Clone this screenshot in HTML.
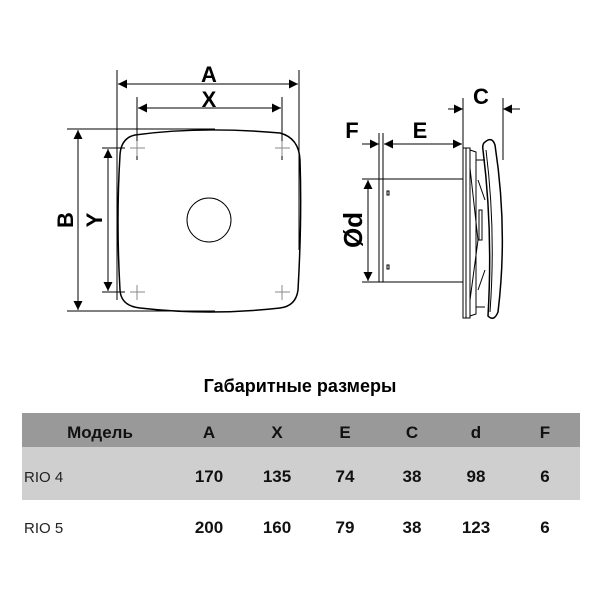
<!DOCTYPE html>
<html><head><meta charset="utf-8"><style>
body{margin:0;background:#fff;width:600px;height:600px;overflow:hidden;font-family:"Liberation Sans",sans-serif}
</style></head><body>
<svg width="600" height="600" viewBox="0 0 600 600" xmlns="http://www.w3.org/2000/svg" style="position:absolute;left:0;top:0">
<defs>
<marker id="ar" viewBox="0 0 10 10" refX="10" refY="5" markerWidth="14" markerHeight="9" orient="auto-start-reverse" markerUnits="userSpaceOnUse"><path d="M0,0L10,5L0,10z" fill="#000"/></marker>
</defs>
<g stroke="#000" stroke-width="1" fill="none">
<line x1="117" y1="70" x2="117" y2="300"/>
<line x1="299" y1="70" x2="299" y2="250"/>
<line x1="137" y1="97" x2="137" y2="160"/>
<line x1="282" y1="97" x2="282" y2="160"/>
<line x1="118" y1="84" x2="298" y2="84" marker-start="url(#ar)" marker-end="url(#ar)"/>
<line x1="138" y1="108" x2="281" y2="108" marker-start="url(#ar)" marker-end="url(#ar)"/>
<line x1="67" y1="129" x2="215" y2="129"/>
<line x1="67" y1="311" x2="215" y2="311"/>
<line x1="78" y1="130" x2="78" y2="310" marker-start="url(#ar)" marker-end="url(#ar)"/>
<line x1="102" y1="148" x2="125" y2="148"/>
<line x1="102" y1="292" x2="125" y2="292"/>
<line x1="108" y1="149" x2="108" y2="291" marker-start="url(#ar)" marker-end="url(#ar)"/>
<path d="M135,135 Q200,126 280,133 Q299,138 300,160 Q302,220 298,290 Q296,306 280,308 Q210,316 140,308 Q121,306 120,290 Q116,220 120,155 Q121,138 135,135Z" stroke-width="1.5"/>
<circle cx="209" cy="220" r="22"/>
</g>
<g stroke="#888" stroke-width="1">
<path d="M130,148h15M137,141v15M275,148h15M282,141v15M130,292h15M137,285v15M275,292h15M282,285v15"/>
</g>
<g font-weight="bold" font-size="22" text-anchor="middle" fill="#000">
<text x="209" y="82">A</text>
<text x="209" y="107">X</text>
<text transform="translate(73,220) rotate(-90)">B</text>
<text transform="translate(102,220) rotate(-90)">Y</text>
<text x="481" y="104">C</text>
<text x="352" y="138">F</text>
<text x="420" y="138">E</text>
<text transform="translate(362,230) rotate(-90)" font-size="26">Ød</text>
</g>
<g stroke="#000" stroke-width="1" fill="none">
<line x1="463" y1="98" x2="463" y2="150"/>
<line x1="503" y1="98" x2="503" y2="160"/>
<line x1="448" y1="109" x2="463" y2="109" marker-end="url(#ar)"/>
<line x1="520" y1="109" x2="503" y2="109" marker-end="url(#ar)"/>
<line x1="379" y1="133" x2="379" y2="282"/>
<line x1="383" y1="133" x2="383" y2="282"/>
<line x1="362" y1="144" x2="379" y2="144" marker-end="url(#ar)"/>
<line x1="384" y1="144" x2="462" y2="144" marker-start="url(#ar)" marker-end="url(#ar)"/>
<line x1="362" y1="179" x2="463" y2="179"/>
<line x1="362" y1="282" x2="463" y2="282"/>
<line x1="368" y1="180" x2="368" y2="281" marker-start="url(#ar)" marker-end="url(#ar)"/>
<rect x="387" y="191" width="2" height="4"/>
<rect x="387" y="265" width="2" height="4"/>
<rect x="463" y="148" width="7" height="170"/>
<line x1="466" y1="148" x2="466" y2="318"/>
<path d="M470,150 L476,152 L476,314 L470,316"/>
<line x1="476" y1="160" x2="485" y2="160"/>
<line x1="476" y1="307" x2="485" y2="307"/>
<path d="M470,168 L478,240 L470,300 M478,180 L485,200 M478,290 L485,270"/>
<rect x="479" y="210" width="3" height="30"/>
<path d="M485,142 Q492,136 495,145 Q508,230 498,312 Q494,322 488,316 Q493,230 483,150 Q482,144 485,142Z" stroke-width="1.5"/>
<path d="M486,150 Q496,230 490,312"/>
</g>
<text x="300" y="392" text-anchor="middle" font-weight="bold" font-size="18">Габаритные размеры</text>
<rect x="22" y="413" width="558" height="34" fill="#999"/>
<rect x="22" y="447" width="558" height="53" fill="#cfcfcf"/>
<g font-size="17" font-weight="bold" text-anchor="middle" fill="#111">
<text x="100" y="438">Модель</text>
<text x="209" y="438">A</text><text x="277" y="438">X</text><text x="345" y="438">E</text><text x="412" y="438">C</text><text x="476" y="438">d</text><text x="545" y="438">F</text>
<text x="209" y="482">170</text><text x="277" y="482">135</text><text x="345" y="482">74</text><text x="412" y="482">38</text><text x="476" y="482">98</text><text x="545" y="482">6</text>
<text x="209" y="533">200</text><text x="277" y="533">160</text><text x="345" y="533">79</text><text x="412" y="533">38</text><text x="476" y="533">123</text><text x="545" y="533">6</text>
</g>
<g font-size="15" fill="#222">
<text x="24" y="482">RIO 4</text>
<text x="24" y="533">RIO 5</text>
</g>
</svg>
</body></html>
